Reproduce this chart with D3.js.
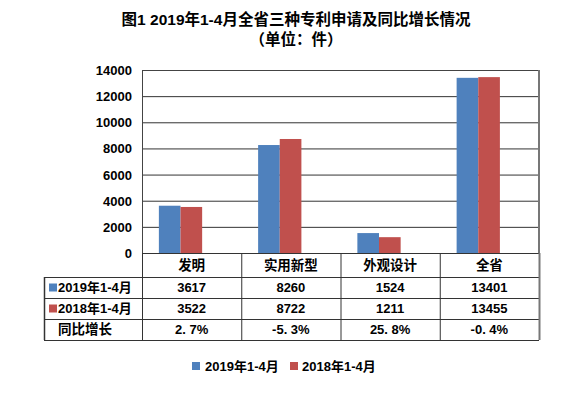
<!DOCTYPE html>
<html><head><meta charset="utf-8">
<script src="https://cdn.jsdelivr.net/npm/d3@7"></script>
<style>
body{margin:0;background:#fff;}
text{font-family:"Liberation Sans","Noto Sans CJK SC",sans-serif;font-weight:bold;fill:#000;}
</style></head>
<body><svg id="c" width="574" height="395"></svg>
<script>
const categories = ["发明","实用新型","外观设计","全省"];
const seriesNames = ["2019年1-4月","2018年1-4月"];
const values2019 = [3617, 8260, 1524, 13401];
const values2018 = [3522, 8722, 1211, 13455];
const growthLabels = ["2. 7%","-5. 3%","25. 8%","-0. 4%"];
const yTicks = [0,2000,4000,6000,8000,10000,12000,14000];
const colors = ["#4F81BD","#C0504D"];
const seriesValues = [values2019, values2018];

const svg = d3.select("#c");
const L=142, R=539, T=70, B=253;
const x = d3.scaleBand().domain(categories).range([L,R]);
const y = d3.scaleLinear().domain([0,14000]).range([B,T]);
const bw = x.bandwidth();

// title
svg.append("text").attr("x",296).attr("y",25).attr("text-anchor","middle").attr("font-size",15.5).text("图1 2019年1-4月全省三种专利申请及同比增长情况");
svg.append("text").attr("x",296).attr("y",45).attr("text-anchor","middle").attr("font-size",15.5).text("（单位：件）");

// gridlines
svg.append("g").selectAll("line").data(yTicks).join("line")
  .attr("x1",L).attr("x2",R).attr("y1",d=>y(d)+0.5).attr("y2",d=>y(d)+0.5)
  .attr("stroke","#333").attr("stroke-width",1);

// y axis labels
const yAxis = d3.axisLeft(y).tickValues(yTicks).tickSize(0).tickPadding(10).tickFormat(d3.format("d"));
const ga = svg.append("g").attr("transform",`translate(${L},0)`).call(yAxis);
ga.select(".domain").remove();
ga.selectAll("text").attr("font-size",13).attr("font-family",null).attr("dy","0.35em");

// bars
const barW = bw*0.218;
seriesValues.forEach((vals,si)=>{
  svg.append("g").selectAll("rect").data(vals).join("rect")
    .attr("x",(d,i)=>x(categories[i])+bw*0.17+si*barW)
    .attr("y",d=>y(d)).attr("width",barW).attr("height",d=>B-y(d))
    .attr("fill",colors[si]);
});

// plot border
svg.append("rect").attr("x",L+0.5).attr("y",T+0.5).attr("width",R-L-1).attr("height",B-T)
  .attr("fill","none").attr("stroke","#444").attr("stroke-width",1);
svg.append("line").attr("x1",R).attr("x2",R).attr("y1",T).attr("y2",B).attr("stroke","#777").attr("stroke-width",2);

// table
const rowY = [B, 277, 298, 319, 340];
const tL = 44;
const tg = svg.append("g").attr("stroke","#333").attr("stroke-width",1).attr("fill","none");
// horizontal lines
rowY.forEach((ry,i)=>{
  tg.append("line").attr("x1", i===0? L : tL).attr("x2",R).attr("y1",ry+0.5).attr("y2",ry+0.5);
});
// vertical lines
categories.forEach(c=>{
  tg.append("line").attr("x1",x(c)+0.5).attr("x2",x(c)+0.5).attr("y1",B).attr("y2",340);
});
tg.append("line").attr("x1",R+0.5).attr("x2",R+0.5).attr("y1",B).attr("y2",340).attr("stroke","#777").attr("stroke-width",2);
tg.append("line").attr("x1",tL+0.5).attr("x2",tL+0.5).attr("y1",277).attr("y2",340).attr("stroke-width",1.5);

// header
svg.append("g").selectAll("text").data(categories).join("text")
  .attr("x",d=>x(d)+bw/2).attr("y",(B+277)/2).attr("dy","0.36em").attr("text-anchor","middle").attr("font-size",13.5).text(d=>d);
// data rows
seriesValues.forEach((vals,si)=>{
  const cy=(rowY[si+1]+rowY[si+2])/2;
  svg.append("g").selectAll("text").data(vals).join("text")
    .attr("x",(d,i)=>x(categories[i])+bw/2).attr("y",cy).attr("dy","0.36em").attr("text-anchor","middle").attr("font-size",13).text(d=>d);
  svg.append("rect").attr("x",49).attr("y",cy-4).attr("width",8).attr("height",8).attr("fill",colors[si]);
  svg.append("text").attr("x",58).attr("y",cy).attr("dy","0.36em").attr("font-size",13).text(seriesNames[si]);
});
{
  const cy=(rowY[3]+rowY[4])/2;
  svg.append("g").selectAll("text").data(growthLabels).join("text")
    .attr("x",(d,i)=>x(categories[i])+bw/2).attr("y",cy).attr("dy","0.36em").attr("text-anchor","middle").attr("font-size",13).text(d=>d);
  svg.append("text").attr("x",58).attr("y",cy).attr("dy","0.36em").attr("font-size",13.5).text("同比增长");
}

// legend
const lg = [[192,205],[290,302]];
seriesNames.forEach((n,i)=>{
  svg.append("rect").attr("x",lg[i][0]).attr("y",362).attr("width",8).attr("height",8).attr("fill",colors[i]);
  svg.append("text").attr("x",lg[i][1]).attr("y",366).attr("dy","0.36em").attr("font-size",13).text(n);
});
</script></body></html>
